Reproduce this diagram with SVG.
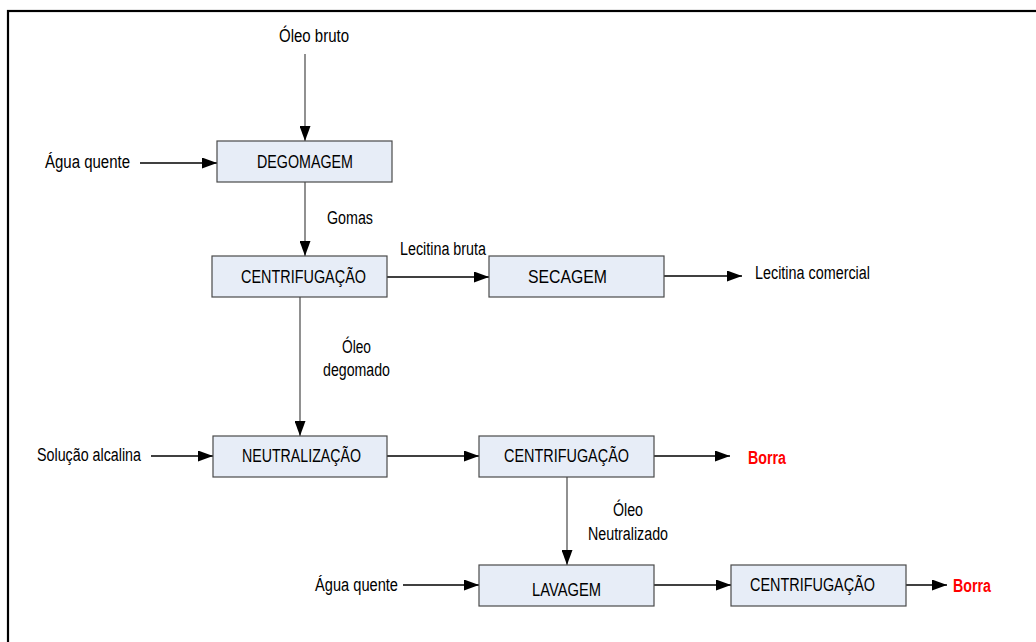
<svg xmlns="http://www.w3.org/2000/svg" width="1036" height="642" viewBox="0 0 1036 642">
<style>
.box{fill:#E7EDF7;stroke:#4a4a4a;stroke-width:1.2}
.t{font-family:"Liberation Sans",Arial,sans-serif;font-size:18px;fill:#000}
.r{font-family:"Liberation Sans",Arial,sans-serif;font-size:18px;font-weight:bold;fill:#FF0000}
.h{stroke:#000;stroke-width:1.3;fill:none;marker-end:url(#ah)}
.v{stroke:#555;stroke-width:1.3;fill:none;marker-end:url(#ah)}
</style>
<defs>
<marker id="ah" markerUnits="userSpaceOnUse" markerWidth="15" markerHeight="11" refX="15" refY="5.5" orient="auto">
<path d="M0,0 L15,5.5 L0,11 Z" fill="#000"/>
</marker>
</defs>
<rect x="0" y="0" width="1036" height="642" fill="#fff"/>
<rect x="8" y="11" width="1100" height="700" fill="none" stroke="#000" stroke-width="2.2"/>

<g id="connectors">
<line class="v" x1="305" y1="54" x2="305" y2="141"/>
<line class="h" x1="140" y1="163" x2="217" y2="163"/>
<line class="v" x1="305" y1="182" x2="305" y2="256"/>
<line class="h" x1="387" y1="277" x2="489" y2="277"/>
<line class="h" x1="664" y1="276" x2="742" y2="276"/>
<line class="v" x1="300" y1="297" x2="300" y2="436"/>
<line class="h" x1="151" y1="456" x2="213" y2="456"/>
<line class="h" x1="387" y1="456" x2="479" y2="456"/>
<line class="h" x1="654" y1="456" x2="730" y2="456"/>
<line class="v" x1="567" y1="477" x2="567" y2="565"/>
<line class="h" x1="403" y1="585" x2="479" y2="585"/>
<line class="h" x1="654" y1="585" x2="731" y2="585"/>
<line class="h" x1="906" y1="585" x2="947" y2="585"/>
</g>

<g id="labels">
<text class="t" x="279" y="42" textLength="70" lengthAdjust="spacingAndGlyphs">Óleo bruto</text>
<text class="t" x="45" y="168" textLength="85" lengthAdjust="spacingAndGlyphs">Água quente</text>
<text class="t" x="327" y="224" textLength="46" lengthAdjust="spacingAndGlyphs">Gomas</text>
<text class="t" x="400" y="255" textLength="86" lengthAdjust="spacingAndGlyphs">Lecitina bruta</text>
<text class="t" x="755" y="279" textLength="115" lengthAdjust="spacingAndGlyphs">Lecitina comercial</text>
<text class="t" x="342" y="353" textLength="29" lengthAdjust="spacingAndGlyphs">Óleo</text>
<text class="t" x="323" y="376" textLength="67" lengthAdjust="spacingAndGlyphs">degomado</text>
<text class="t" x="37" y="461" textLength="104" lengthAdjust="spacingAndGlyphs">Solução alcalina</text>
<text class="r" x="748" y="464" textLength="38" lengthAdjust="spacingAndGlyphs">Borra</text>
<text class="t" x="613" y="516" textLength="30" lengthAdjust="spacingAndGlyphs">Óleo</text>
<text class="t" x="588" y="540" textLength="80" lengthAdjust="spacingAndGlyphs">Neutralizado</text>
<text class="t" x="315" y="591" textLength="83" lengthAdjust="spacingAndGlyphs">Água quente</text>
<text class="r" x="953" y="592" textLength="38" lengthAdjust="spacingAndGlyphs">Borra</text>
</g>

<g id="degomagem">
<rect class="box" x="217" y="141" width="175" height="41"/>
<text class="t" x="257" y="168" textLength="96" lengthAdjust="spacingAndGlyphs">DEGOMAGEM</text>
</g>
<g id="centrifugacao1">
<rect class="box" x="212" y="256" width="175" height="41"/>
<text class="t" x="241" y="283" textLength="125" lengthAdjust="spacingAndGlyphs">CENTRIFUGAÇÃO</text>
</g>
<g id="secagem">
<rect class="box" x="489" y="256" width="175" height="41"/>
<text class="t" x="528" y="283" textLength="79" lengthAdjust="spacingAndGlyphs">SECAGEM</text>
</g>
<g id="neutralizacao">
<rect class="box" x="213" y="436" width="174" height="41"/>
<text class="t" x="242" y="462" textLength="119" lengthAdjust="spacingAndGlyphs">NEUTRALIZAÇÃO</text>
</g>
<g id="centrifugacao2">
<rect class="box" x="479" y="436" width="175" height="41"/>
<text class="t" x="504" y="462" textLength="125" lengthAdjust="spacingAndGlyphs">CENTRIFUGAÇÃO</text>
</g>
<g id="lavagem">
<rect class="box" x="479" y="565" width="175" height="41"/>
<text class="t" x="532" y="596" textLength="69" lengthAdjust="spacingAndGlyphs">LAVAGEM</text>
</g>
<g id="centrifugacao3">
<rect class="box" x="731" y="565" width="175" height="41"/>
<text class="t" x="750" y="591" textLength="125" lengthAdjust="spacingAndGlyphs">CENTRIFUGAÇÃO</text>
</g>
</svg>
